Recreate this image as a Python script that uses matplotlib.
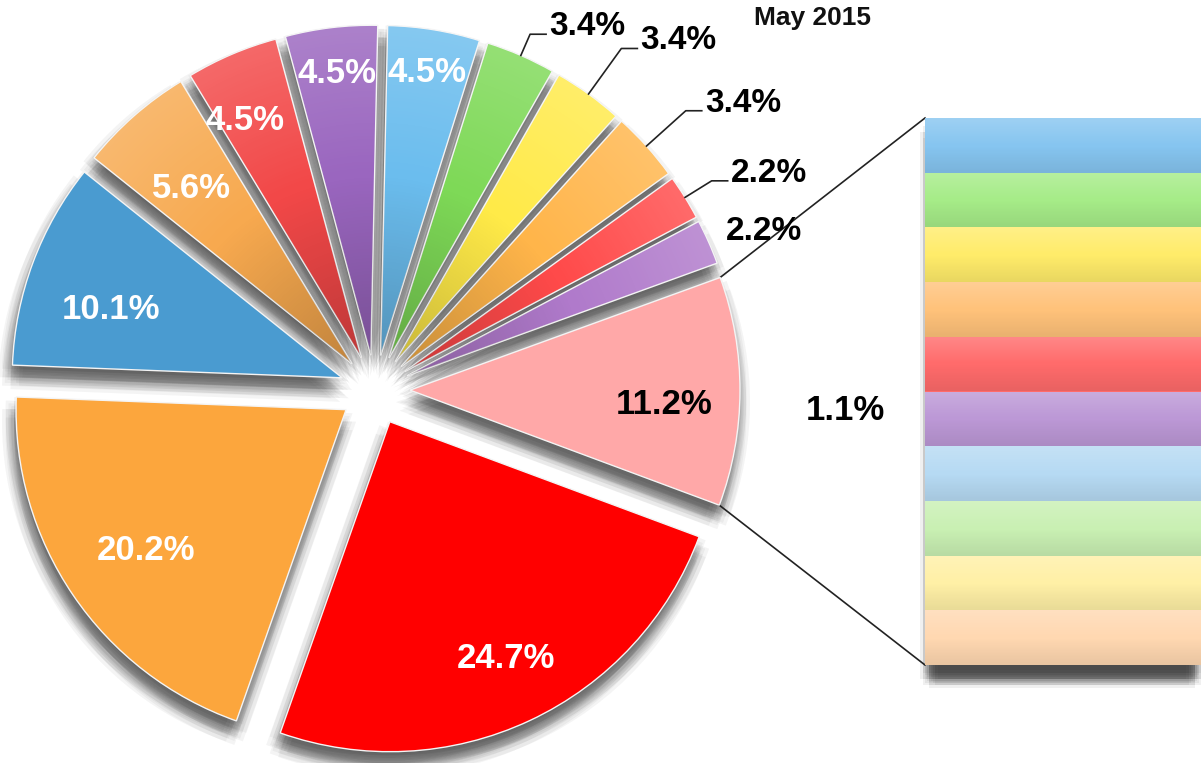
import numpy as np
import matplotlib
import matplotlib.pyplot as plt
import matplotlib.patches as mpatches

matplotlib.rcParams['font.family'] = ['Liberation Sans', 'DejaVu Sans']
matplotlib.rcParams['font.weight'] = 'bold'

# shares in %, counter-clockwise from the "other" slice
SHARES = [11.2, 2.2, 2.2, 3.4, 3.4, 3.4, 4.5, 4.5, 4.5, 5.6, 10.1, 20.2, 24.7]
PIE_COLORS = ['#FFA8A8', '#B07ACB', '#FF4A4A', '#FFB54A', '#FFEA48', '#7ED957',
              '#6BBDEE', '#9A66BF', '#F24848', '#F7A94F', '#4A9BD0', '#FCA63D', '#FF0000']

# breakdown of the 11.2% slice, top to bottom
BAR_SHARES = [1.1] * 10
BAR_COLORS = ['#86C5F0', '#A6EC88', '#FFEC6A', '#FFC27A', '#FF6B6B',
              '#BC98D6', '#B6DAF3', '#C9F0B3', '#FFF0A6', '#FFD8B1']

TITLE = 'May 2015'

W, H = 1201, 763
CENTER = (375, 373)
RADIUS = 330
EXPLODE = 35
BAR_BOX = (925, 98, 276, 547)  # left, bottom, width, height in px

# inside labels: (radius fraction, angle shift in degrees)
INSIDE = {0: (0.77, -3), 6: (0.87, 0), 7: (0.86, 0), 8: (0.80, 3), 9: (0.72, 1),
          10: (0.73, 4), 11: (0.74, 1), 12: (0.80, 1)}
# outside labels: elbow radius fraction (None = no leader line)
OUTSIDE = {1: None, 2: 1.095, 3: 1.16, 4: 1.17, 5: 1.07}
SHADED = range(1, 10)


def soft_shadow(ax, make, base=(-2, -12), rings=(0, 4, 8, 12), n=8, alpha=0.05):
    for sp in rings:
        for k in range(n if sp else 1):
            ang = 2 * np.pi * k / n
            p = make(base[0] + sp * np.cos(ang), base[1] + sp * np.sin(ang))
            p.set(facecolor='#303030', edgecolor='none', alpha=alpha, zorder=0)
            ax.add_patch(p)


def radial_shade(ax, w):
    cx, cy = w.center
    r = w.r
    xs = np.linspace(cx - r, cx + r, 200)
    ys = np.linspace(cy - r, cy + r, 200)
    X, Y = np.meshgrid(xs, ys)
    d = np.clip(np.hypot(X - cx, Y - cy) / r, 0, 1)
    img = np.zeros(d.shape + (4,))
    light = d > 0.55
    img[..., :3] = light[..., None] * 1.0
    img[..., 3] = np.where(light, 0.18 * (d - 0.55) / 0.45, 0.22 * (0.55 - d) / 0.55)
    im = ax.imshow(img, extent=(cx - r, cx + r, cy - r, cy + r), origin='lower',
                   interpolation='bilinear', zorder=3)
    im.set_clip_path(w)


def main():
    fig = plt.figure(figsize=(W / 100, H / 100), dpi=100)
    ax = fig.add_axes([0, 0, 1, 1])

    wedges, _ = ax.pie(SHARES, colors=PIE_COLORS, startangle=-20.4, counterclock=True,
                       radius=RADIUS, center=CENTER, explode=[EXPLODE] * len(SHARES),
                       wedgeprops=dict(edgecolor='#f4f4f4', linewidth=1.0, zorder=2))

    for w in wedges:
        cx, cy = w.center
        soft_shadow(ax, lambda ox, oy, w=w, cx=cx, cy=cy:
                    mpatches.Wedge((cx + ox, cy + oy), w.r, w.theta1, w.theta2))
    for i in SHADED:
        radial_shade(ax, wedges[i])

    for i, w in enumerate(wedges):
        cx, cy = w.center
        txt = f'{SHARES[i]}%'
        if i in INSIDE:
            f, shift = INSIDE[i]
            t = np.deg2rad((w.theta1 + w.theta2) / 2 + shift)
            color = 'black' if i == 0 else 'white'
            ax.text(cx + f * w.r * np.cos(t), cy + f * w.r * np.sin(t), txt,
                    ha='center', va='center', fontsize=25, color=color, zorder=5)
            continue
        t = np.deg2rad((w.theta1 + w.theta2) / 2)
        ex, ey = cx + w.r * np.cos(t), cy + w.r * np.sin(t)
        f = OUTSIDE[i]
        if f is None:
            ax.text(ex + 17, ey + 2, txt, ha='left', va='baseline',
                    fontsize=24, color='black', zorder=5)
            continue
        kx, ky = cx + f * w.r * np.cos(t), cy + f * w.r * np.sin(t)
        ax.plot([ex, kx, kx + 16], [ey, ky, ky], color='#222222', lw=1.2, zorder=4)
        ax.text(kx + 19, ky - 1, txt, ha='left', va='baseline',
                fontsize=24, color='black', zorder=5)

    # connector lines from the "other" slice to the bar
    other = wedges[0]
    ox, oy = other.center
    bl, bb, bw, bh = BAR_BOX
    for ang, by in [(other.theta2, bb + bh), (other.theta1, bb)]:
        a = np.deg2rad(ang)
        ax.plot([ox + other.r * np.cos(a), bl], [oy + other.r * np.sin(a), by],
                color='#222222', lw=1.2, zorder=1)

    soft_shadow(ax, lambda dx, dy: mpatches.Rectangle((bl + 4 + dx, bb + dy), bw - 10, bh),
                base=(0, -14), rings=(0, 3, 6, 9), alpha=0.07)

    ax.text(845, H - 410, f'{BAR_SHARES[0]}%', ha='center', va='center',
            fontsize=25, color='black')
    ax.text(812, H - 18, TITLE, ha='center', va='center', fontsize=19, color='#111111')

    ax.set_xlim(0, W)
    ax.set_ylim(0, H)
    ax.set_aspect('equal')
    ax.axis('off')

    bax = fig.add_axes([bl / W, bb / H, bw / W, bh / H])
    bottoms = np.concatenate([[0], np.cumsum(BAR_SHARES)[:-1]])
    bars = bax.bar(0, BAR_SHARES, bottom=bottoms, width=1.0, color=BAR_COLORS,
                   edgecolor='none')

    # light-to-dark shading inside each bar segment
    s = np.linspace(0, 1, 64)
    grad = np.zeros((64, 1, 4))
    grad[:, 0, :3] = (s < 0.5)[:, None] * 1.0
    grad[:, 0, 3] = np.where(s < 0.5, 0.20 * (1 - 2 * s), 0.09 * (2 * s - 1))
    for b in bars:
        y0, y1 = b.get_y(), b.get_y() + b.get_height()
        im = bax.imshow(grad, extent=(-0.5, 0.5, y1, y0), aspect='auto',
                        interpolation='bilinear', zorder=3)
        im.set_clip_path(b)
    bax.set_xlim(-0.5, 0.5)
    bax.set_ylim(sum(BAR_SHARES), 0)
    bax.axis('off')

    fig.savefig('out.png', dpi=100)


if __name__ == '__main__':
    main()
